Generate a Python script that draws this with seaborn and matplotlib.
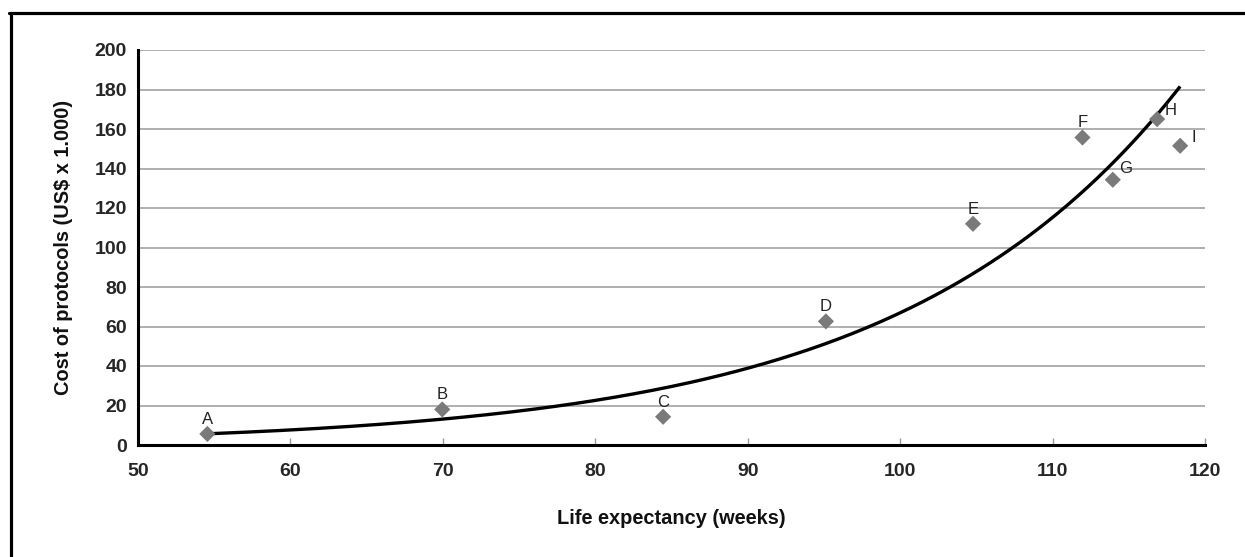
import numpy as np
import pandas as pd
import matplotlib
matplotlib.use("Agg")
import matplotlib.pyplot as plt
from matplotlib.lines import Line2D
import seaborn as sns

# ---- data ----
labels = ["A", "B", "C", "D", "E", "F", "G", "H", "I"]
life_weeks = [54.55, 69.96, 84.45, 95.13, 104.78, 111.96, 113.95, 116.86, 118.37]
cost_k = [5.6, 18.0, 14.3, 62.6, 112.0, 155.7, 134.3, 165.0, 151.5]
x_ticks = [50, 60, 70, 80, 90, 100, 110, 120]
y_ticks = [0, 20, 40, 60, 80, 100, 120, 140, 160, 180, 200]
x_title = "Life expectancy (weeks)"
y_title = "Cost of protocols (US$ x 1.000)"

df = pd.DataFrame({"label": labels, "weeks": life_weeks, "cost": cost_k})

# exponential trendline fitted to the points (log-linear least squares)
b, ln_a = np.polyfit(df["weeks"], np.log(df["cost"]), 1)
xs = np.linspace(df["weeks"].min(), df["weeks"].max(), 200)
trend = pd.DataFrame({"weeks": xs, "cost": np.exp(ln_a + b * xs)})

sns.set_theme(style="white")
plt.rcParams["font.family"] = ["Liberation Sans", "DejaVu Sans"]

fig = plt.figure(figsize=(12.45, 5.57), dpi=100)
ax = fig.add_axes([138 / 1245, 1 - 445 / 557, (1205 - 138) / 1245, (445 - 50) / 557])

sns.lineplot(data=trend, x="weeks", y="cost", ax=ax, color="black", lw=2.4,
             zorder=3, solid_capstyle="butt")
sns.scatterplot(data=df, x="weeks", y="cost", ax=ax, marker="D", s=68,
                color="#7a7a7a", edgecolor="none", zorder=4)

offsets = {"G": (9, 8), "H": (10, 6), "I": (9.5, 6)}
for lab, xv, yv in zip(labels, life_weeks, cost_k):
    off = offsets.get(lab, (0, 10.5))
    ax.annotate(lab, (xv, yv), xytext=off, textcoords="offset points",
                ha="center", va="center", fontsize=12, color="#222222", zorder=5)

ax.set_xlim(50, 120)
ax.set_ylim(0, 200)
ax.set_xticks(x_ticks)
ax.set_yticks(y_ticks)
ax.set_xticklabels([str(v) for v in x_ticks], fontsize=14, fontweight="bold")
ax.set_yticklabels([str(v) for v in y_ticks], fontsize=14, fontweight="bold")

ax.yaxis.grid(True, color="#9a9a9a", lw=1.1)
ax.xaxis.grid(False)
ax.set_axisbelow(True)

for side in ["top", "right"]:
    ax.spines[side].set_visible(False)
for side in ["left", "bottom"]:
    ax.spines[side].set_color("black")
    ax.spines[side].set_linewidth(2.2)

ax.tick_params(axis="x", direction="in", length=5, width=1, color="#999999",
               pad=13, bottom=True)
ax.tick_params(axis="y", length=0, pad=8)

ax.set_xlabel(x_title, fontsize=14.4, fontweight="bold", color="#111111")
ax.set_ylabel(y_title, fontsize=14.4, fontweight="bold", color="#111111")
ax.xaxis.set_label_coords(0.5, -0.163)
ax.yaxis.set_label_coords(-0.061, 0.5)

# outer frame (top and left edges visible)
fx = 10.5 / 1245
fy = 1 - 13 / 557
fig.add_artist(Line2D([fx, fx], [0, fy], transform=fig.transFigure, color="black", lw=2.3))
fig.add_artist(Line2D([fx - 0.001, 1.0], [fy, fy], transform=fig.transFigure, color="black", lw=2.3))

fig.savefig("out.png", dpi=100)
